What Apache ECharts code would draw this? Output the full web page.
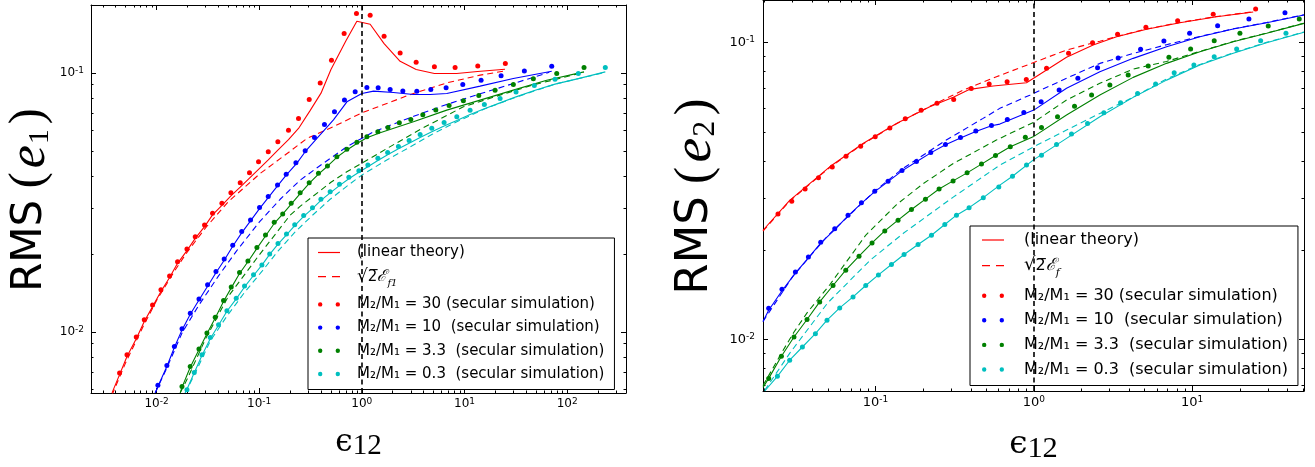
<!DOCTYPE html>
<html><head><meta charset="utf-8">
<script src="https://cdn.jsdelivr.net/npm/echarts@6/dist/echarts.min.js"></script>
<style>html,body{margin:0;padding:0;background:#fff}#c{width:1315px;height:467px}</style>
</head><body><div id="c"></div>
<script>
// ================= LEFT PANEL : RMS(e1) vs eps12 =================
const e1_xRange = [0.002297, 374.6];
const e1_yRange = [0.005802, 0.1829];
const e1_xMajor = [0.01, 0.1, 1, 10, 100];
const e1_xMinor = [0.003,0.004,0.005,0.006,0.007,0.008,0.009,0.02,0.03,0.04,0.05,0.06,0.07,0.08,0.09,0.2,0.3,0.4,0.5,0.6,0.7,0.8,0.9,2,3,4,5,6,7,8,9,20,30,40,50,60,70,80,90,200,300];
const e1_yMajor = [0.01, 0.1];
const e1_yMinor = [0.006,0.007,0.008,0.009,0.02,0.03,0.04,0.05,0.06,0.07,0.08,0.09];
const e1_refX = 1;

// M2/M1 = 30 (red)
const e1_sim30 = [[0.00436,0.00693],[0.00515,0.00815],[0.00634,0.00954],[0.00759,0.01113],[0.00914,0.0127],[0.01103,0.01452],[0.01339,0.01644],[0.01601,0.01866],[0.01977,0.0209],[0.02381,0.0233],[0.02934,0.02586],[0.0351,0.0287],[0.0433,0.03134],[0.053,0.03445],[0.0653,0.03765],[0.0804,0.0411],[0.0985,0.0454],[0.1225,0.0496],[0.152,0.0542],[0.1929,0.0601],[0.2415,0.0667],[0.307,0.0789],[0.393,0.0915],[0.506,0.1119],[0.672,0.1419],[0.886,0.1694],[1.205,0.1669],[1.647,0.1384],[2.36,0.1194],[3.38,0.1100],[5.09,0.1055],[8.1,0.1049],[13.47,0.1064],[25.0,0.1087]];
const e1_lin30 = [[0.00368,0.00581],[0.00436,0.00683],[0.00515,0.00803],[0.00634,0.0094],[0.00759,0.01096],[0.00914,0.01251],[0.01103,0.0143],[0.01339,0.0162],[0.01601,0.01838],[0.01977,0.02059],[0.02381,0.02295],[0.02934,0.02547],[0.0351,0.0283],[0.0433,0.0308],[0.053,0.0335],[0.0653,0.0362],[0.0804,0.0392],[0.0985,0.0424],[0.1225,0.0461],[0.152,0.0503],[0.1929,0.0552],[0.2415,0.061],[0.313,0.0715],[0.40,0.0835],[0.50,0.103],[0.70,0.133],[0.894,0.1582],[1.205,0.1541],[1.647,0.1297],[2.36,0.1109],[3.38,0.103],[5.09,0.0994],[8.4,0.0995],[13.4,0.1012],[24.8,0.1033]];
const e1_sq30 = [[0.00368,0.0057],[0.005,0.0076],[0.0075,0.0106],[0.01,0.0132],[0.015,0.0172],[0.02,0.0204],[0.03,0.0252],[0.05,0.0318],[0.1023,0.0409],[0.2,0.0498],[0.291,0.0558],[0.529,0.062],[1.0,0.0701],[1.75,0.0762],[3.18,0.0833],[6.72,0.0915],[14.2,0.098],[24.8,0.1018]];
// M2/M1 = 10 (blue)
const e1_sim10 = [[0.0103,0.00621],[0.0126,0.00741],[0.0149,0.00878],[0.0177,0.01027],[0.0213,0.0118],[0.0259,0.0134],[0.0314,0.0152],[0.0379,0.0171],[0.0456,0.0191],[0.0552,0.0216],[0.0675,0.0244],[0.0823,0.027],[0.1007,0.0302],[0.1224,0.0333],[0.1508,0.0369],[0.1832,0.0406],[0.2277,0.045],[0.2805,0.05],[0.3455,0.0563],[0.4323,0.0632],[0.5411,0.0707],[0.677,0.0785],[0.861,0.0845],[1.119,0.0878],[1.441,0.0876],[1.886,0.0863],[2.507,0.0852],[3.432,0.085],[4.697,0.0863],[6.62,0.0876],[9.625,0.0902],[14.51,0.0937],[22.72,0.0974],[38.3,0.1018],[70.8,0.1061]];
const e1_lin10 = [[0.0097,0.00581],[0.0103,0.00615],[0.0126,0.00734],[0.0149,0.0087],[0.0177,0.01017],[0.0213,0.01168],[0.0259,0.01327],[0.0314,0.015],[0.0379,0.0169],[0.0456,0.0189],[0.0552,0.0214],[0.0675,0.0241],[0.0823,0.0268],[0.1007,0.0299],[0.1224,0.033],[0.1508,0.0366],[0.1832,0.0403],[0.233,0.0448],[0.2805,0.0496],[0.365,0.0558],[0.529,0.0658],[0.715,0.0773],[1.0,0.0833],[1.3,0.085],[2.03,0.084],[3.18,0.0825],[4.62,0.0825],[6.72,0.0833],[14.2,0.0889],[29.9,0.0951],[70.8,0.1015]];
const e1_sq10 = [[0.0097,0.00581],[0.0126,0.00725],[0.0177,0.0099],[0.0259,0.0127],[0.04,0.0164],[0.06,0.0205],[0.1,0.0265],[0.16,0.0325],[0.25,0.0385],[0.378,0.0434],[0.715,0.0519],[1.3,0.0592],[1.75,0.062],[3.2,0.068],[6.7,0.0755],[14.2,0.083],[30,0.091],[67,0.1005]];
// M2/M1 = 3.3 (green)
const e1_sim3 = [[0.01768,0.00615],[0.02128,0.00735],[0.02587,0.00858],[0.03095,0.00989],[0.03729,0.01139],[0.04491,0.0132],[0.05339,0.01488],[0.06429,0.01693],[0.07762,0.01878],[0.09497,0.02118],[0.1151,0.02366],[0.14,0.02649],[0.1694,0.02851],[0.2049,0.03135],[0.2506,0.03445],[0.3068,0.03765],[0.3779,0.04093],[0.4624,0.04367],[0.5708,0.04744],[0.7146,0.05066],[0.894,0.05391],[1.119,0.05665],[1.432,0.05922],[1.795,0.06157],[2.318,0.06415],[3.0,0.06612],[3.926,0.06887],[5.254,0.07182],[7.079,0.07487],[9.757,0.07798],[13.78,0.0818],[19.86,0.08576],[29.93,0.09022],[46.88,0.09482],[79.19,0.09947],[146.1,0.1049]];
const e1_lin3 = [[0.017,0.00581],[0.01768,0.0061],[0.02128,0.0073],[0.02587,0.00852],[0.03095,0.00982],[0.03729,0.0113],[0.04491,0.0131],[0.05339,0.01478],[0.06429,0.0168],[0.07762,0.01865],[0.09497,0.021],[0.1151,0.02345],[0.14,0.0262],[0.1694,0.0285],[0.2049,0.0311],[0.2506,0.0342],[0.3068,0.0374],[0.3779,0.04065],[0.4624,0.0436],[0.5708,0.0472],[0.7146,0.0504],[0.894,0.0534],[1.119,0.0562],[1.507,0.0587],[3.18,0.0647],[6.72,0.0718],[14.2,0.0785],[29.9,0.0858],[63.3,0.0937],[146,0.1009]];
const e1_sq3 = [[0.017,0.00581],[0.02,0.0066],[0.03,0.0094],[0.05,0.0137],[0.1,0.0198],[0.2,0.0282],[0.25,0.0305],[0.5,0.0378],[0.7146,0.0415],[1.0,0.0448],[1.75,0.051],[3.7,0.0605],[9.76,0.074],[20,0.081],[45,0.0895],[146,0.1005]];
// M2/M1 = 0.3 (cyan)
const e1_sim03 = [[0.01977,0.00597],[0.02329,0.00697],[0.02767,0.00815],[0.03333,0.00951],[0.04015,0.01064],[0.04846,0.01205],[0.05971,0.01349],[0.07192,0.01504],[0.08801,0.01659],[0.1062,0.01813],[0.1265,0.01999],[0.1524,0.02194],[0.1844,0.02387],[0.2217,0.02591],[0.2712,0.02811],[0.3304,0.03016],[0.399,0.03249],[0.4912,0.03476],[0.6051,0.03712],[0.747,0.0395],[0.935,0.04188],[1.144,0.04406],[1.432,0.04677],[1.783,0.04923],[2.272,0.05201],[2.888,0.05477],[3.695,0.05778],[4.803,0.06105],[6.33,0.06437],[8.414,0.06765],[11.34,0.0718],[15.62,0.07552],[22.22,0.07966],[31.79,0.08428],[47.94,0.08942],[76.22,0.09456],[128.6,0.09947],[235.5,0.1049]];
const e1_lin03 = [[0.019,0.00581],[0.01977,0.006],[0.02329,0.00695],[0.02767,0.0081],[0.03333,0.0094],[0.04015,0.0106],[0.04846,0.012],[0.05971,0.0134],[0.07192,0.0149],[0.08801,0.0165],[0.1062,0.0181],[0.1265,0.0199],[0.1524,0.0218],[0.1844,0.0237],[0.2217,0.0257],[0.2712,0.0279],[0.3304,0.0299],[0.399,0.0322],[0.4912,0.0344],[0.6051,0.0367],[0.747,0.039],[0.935,0.0413],[1.144,0.0434],[1.432,0.0459],[1.783,0.0483],[2.272,0.0509],[2.888,0.0535],[3.695,0.0563],[4.803,0.0593],[6.33,0.0624],[8.414,0.0655],[11.34,0.0691],[15.62,0.0727],[22.22,0.0766],[31.79,0.0808],[47.94,0.0855],[76.22,0.0905],[128.6,0.095],[235.5,0.1009]];
const e1_sq03 = [[0.019,0.00581],[0.0233,0.0068],[0.0333,0.0092],[0.0485,0.0115],[0.072,0.0142],[0.1062,0.0171],[0.1524,0.0205],[0.2217,0.0242],[0.3304,0.0282],[0.4912,0.0325],[0.747,0.037],[1.0,0.0403],[1.75,0.0461],[2.888,0.0515],[4.803,0.0578],[8.414,0.0648],[15.62,0.0725],[31.79,0.0806],[76.22,0.0905],[235.5,0.1005]];

// ================= RIGHT PANEL : RMS(e2) vs eps12 =================
const e2_xRange = [0.0195, 50.8];
const e2_yRange = [0.00671, 0.1393];
const e2_xMajor = [0.1, 1, 10];
const e2_xMinor = [0.02,0.03,0.04,0.05,0.06,0.07,0.08,0.09,0.2,0.3,0.4,0.5,0.6,0.7,0.8,0.9,2,3,4,5,6,7,8,9,20,30,40,50];
const e2_yMajor = [0.01, 0.1];
const e2_yMinor = [0.007,0.008,0.009,0.02,0.03,0.04,0.05,0.06,0.07,0.08,0.09];
const e2_refX = 1;

const e2_sim30 = [[0.02425,0.02648],[0.02962,0.02922],[0.03597,0.03216],[0.04368,0.03512],[0.05337,0.03816],[0.0652,0.04145],[0.08064,0.0448],[0.0997,0.04818],[0.1233,0.05164],[0.1543,0.0554],[0.1943,0.05926],[0.2447,0.06256],[0.3119,0.06437],[0.4024,0.07015],[0.5224,0.07254],[0.6781,0.07386],[0.8965,0.07521],[1.203,0.082],[1.657,0.0921],[2.349,0.1],[3.379,0.1067],[5.10,0.1127],[8.09,0.1186],[13.57,0.1247],[25.15,0.1299]];
const e2_lin30 = [[0.0195,0.02335],[0.02875,0.02943],[0.05143,0.03819],[0.08348,0.04578],[0.1357,0.05348],[0.2203,0.06084],[0.31,0.0655],[0.3941,0.06966],[0.5533,0.0715],[0.899,0.0733],[1.203,0.0809],[1.609,0.0893],[2.369,0.0982],[3.331,0.1047],[5.151,0.111],[8.361,0.1168],[14.26,0.1224],[24.28,0.1269]];
const e2_sq30 = [[0.0195,0.0232],[0.02875,0.0293],[0.05143,0.038],[0.08348,0.0456],[0.1357,0.0533],[0.2203,0.061],[0.281,0.065],[0.358,0.0692],[0.581,0.0768],[1.0,0.0858],[1.609,0.0945],[2.61,0.1012],[3.33,0.105],[5.15,0.1112],[8.36,0.117],[14.26,0.1226],[24.3,0.1271]];
const e2_sim10 = [[0.02118,0.01275],[0.0257,0.01477],[0.03123,0.0169],[0.03773,0.01899],[0.04511,0.02128],[0.05534,0.0236],[0.06712,0.02625],[0.08155,0.02888],[0.09899,0.03162],[0.1201,0.03417],[0.1472,0.03714],[0.1815,0.03982],[0.2235,0.04271],[0.2768,0.04545],[0.3443,0.04797],[0.4301,0.05039],[0.5403,0.05266],[0.6803,0.05516],[0.8646,0.05824],[1.112,0.06324],[1.445,0.06927],[1.897,0.07586],[2.526,0.08234],[3.409,0.08878],[4.721,0.095],[6.625,0.1013],[9.629,0.1076],[14.47,0.1141],[22.81,0.1202],[38.51,0.1262]];
const e2_lin10 = [[0.0195,0.0115],[0.02118,0.01255],[0.0257,0.0146],[0.03123,0.01675],[0.03773,0.01885],[0.04511,0.02112],[0.05534,0.02345],[0.06712,0.0261],[0.08155,0.02875],[0.09899,0.0315],[0.1201,0.03405],[0.1472,0.037],[0.1815,0.0397],[0.2235,0.04255],[0.2768,0.0453],[0.3443,0.0478],[0.4301,0.0502],[0.5403,0.0525],[0.61,0.05319],[1.0,0.0593],[1.609,0.07022],[2.612,0.07983],[4.24,0.08858],[6.89,0.09694],[11.18,0.1047],[18.16,0.1112],[29.51,0.1168],[50.8,0.124]];
const e2_sq10 = [[0.0195,0.0115],[0.03,0.0163],[0.05,0.0224],[0.1,0.0318],[0.15,0.0378],[0.28,0.047],[0.478,0.0556],[0.61,0.0601],[0.9435,0.0666],[1.609,0.0759],[2.612,0.0852],[4.24,0.092],[6.89,0.0985],[11.18,0.105],[18.16,0.1114],[29.5,0.117],[50.8,0.1242]];
const e2_sim3 = [[0.02118,0.0074],[0.02548,0.00879],[0.0306,0.0102],[0.03698,0.01168],[0.04446,0.01339],[0.05397,0.01521],[0.06494,0.01713],[0.07875,0.01909],[0.09517,0.02117],[0.1145,0.02323],[0.1389,0.02525],[0.1688,0.02743],[0.2069,0.02972],[0.2522,0.03217],[0.3091,0.03424],[0.3791,0.03644],[0.4673,0.039],[0.5729,0.04171],[0.7104,0.0446],[0.8837,0.04801],[1.118,0.05185],[1.411,0.0563],[1.807,0.06115],[2.316,0.06664],[3.02,0.072],[3.942,0.07781],[5.274,0.08343],[7.126,0.08929],[9.77,0.09523],[13.77,0.1016],[20.01,0.1076],[30.2,0.1138],[47.42,0.1202]];
const e2_lin3 = [[0.0195,0.0069],[0.02118,0.0074],[0.02548,0.00879],[0.0306,0.0102],[0.03698,0.01168],[0.04446,0.01339],[0.05397,0.01521],[0.06494,0.01713],[0.07875,0.01909],[0.09517,0.02117],[0.1145,0.02323],[0.1389,0.02525],[0.1688,0.02743],[0.2069,0.02972],[0.2522,0.03217],[0.3091,0.03424],[0.3791,0.03644],[0.4673,0.039],[0.5729,0.04171],[0.7104,0.0446],[0.99,0.04818],[1.609,0.05705],[2.612,0.06664],[4.24,0.07643],[6.89,0.08521],[11.18,0.09325],[18.16,0.1008],[29.51,0.1076],[50.8,0.1162]];
const e2_sq3 = [[0.0195,0.007],[0.0255,0.009],[0.0306,0.0106],[0.037,0.0123],[0.0515,0.0153],[0.087,0.0225],[0.136,0.0285],[0.2,0.0335],[0.31,0.0392],[0.58,0.047],[1.0,0.054],[1.609,0.0641],[2.612,0.073],[4.24,0.0815],[6.89,0.0865],[11.18,0.0935],[18.16,0.101],[29.51,0.1078],[50.8,0.1164]];
const e2_sim03 = [[0.02404,0.00752],[0.02874,0.00852],[0.03457,0.00944],[0.04178,0.01047],[0.04945,0.01162],[0.05948,0.01278],[0.07219,0.01392],[0.08685,0.01521],[0.1044,0.01651],[0.1262,0.0179],[0.1516,0.01935],[0.1858,0.02091],[0.2258,0.02246],[0.2741,0.02441],[0.3248,0.02625],[0.3902,0.02782],[0.4797,0.03006],[0.601,0.03268],[0.7334,0.03552],[0.8993,0.0387],[1.118,0.04181],[1.391,0.04545],[1.73,0.04923],[2.184,0.05348],[2.768,0.05808],[3.529,0.06276],[4.519,0.0675],[5.872,0.07256],[7.695,0.07924],[10.25,0.08413],[13.77,0.0897],[19.08,0.09523],[27.05,0.1016],[39.08,0.1076]];
const e2_lin03 = [[0.02,0.00671],[0.02404,0.00752],[0.02874,0.00852],[0.03457,0.00944],[0.04178,0.01047],[0.04945,0.01162],[0.05948,0.01278],[0.07219,0.01392],[0.08685,0.01521],[0.1044,0.01651],[0.1262,0.0179],[0.1516,0.01935],[0.1858,0.02091],[0.2258,0.02246],[0.2741,0.02441],[0.3248,0.02625],[0.3902,0.02782],[0.4797,0.03006],[0.61,0.03313],[0.7334,0.0355],[0.99,0.04022],[1.609,0.04761],[2.612,0.0563],[4.24,0.06546],[6.89,0.07482],[11.18,0.08413],[18.16,0.09211],[29.51,0.1],[50.8,0.1084]];
const e2_sq03 = [[0.02,0.00675],[0.0288,0.009],[0.05,0.0133],[0.0925,0.0185],[0.15,0.0228],[0.31,0.0302],[0.61,0.0387],[0.99,0.0445],[1.609,0.0508],[2.612,0.0578],[4.24,0.0655],[6.89,0.0755],[11.18,0.0845],[18.16,0.0925],[29.5,0.1003],[50.8,0.1087]];

// ================= styling =================
const COL = {r:'#ff0000', b:'#0000ff', g:'#008000', c:'#00bfbf'};
const FONT = 'DejaVu Sans';

function fmtPow(v){ const e = Math.round(Math.log10(v)); return '10{sup|' + e + '}'; }

function mkAxes(gi, rng, major, minor, pos, cfg){
  const opp = {bottom:'top', top:'bottom', left:'right', right:'left'}[pos];
  const base = {type:'log', gridIndex:gi, min:rng[0], max:rng[1], splitLine:{show:false}, splitArea:{show:false}};
  const line = {show:true, lineStyle:{color:'#000', width:1}};
  const tick = (vals, len) => ({show:true, inside:true, length:len, customValues:vals, lineStyle:{color:'#000', width:1}});
  const main = Object.assign({}, base, {
    position:pos, axisLine:line, axisTick:tick(major,5),
    axisLabel:{show:true, customValues:major, formatter:fmtPow, margin:cfg.margin, color:'#000',
      fontFamily:FONT, fontSize:cfg.fs, lineHeight:cfg.fs+2,
      rich:{sup:{fontFamily:FONT, fontSize:Math.round(cfg.fs*0.72), lineHeight:5, verticalAlign:'top', color:'#000'}}},
    name:cfg.name, nameLocation:'middle', nameGap:cfg.gap, nameTextStyle:cfg.nameStyle
  });
  if (cfg.rot !== undefined) main.nameRotate = cfg.rot;
  return [
    main,
    Object.assign({}, base, {position:pos, axisLine:{show:false}, axisTick:tick(minor,2.5), axisLabel:{show:false}}),
    Object.assign({}, base, {position:opp, axisLine:line, axisTick:tick(major,5), axisLabel:{show:false}}),
    Object.assign({}, base, {position:opp, axisLine:{show:false}, axisTick:tick(minor,2.5), axisLabel:{show:false}})
  ];
}

function xNameStyle(s){
  return {rich:{
    eps:{fontFamily:'DejaVu Serif', fontSize:31*s, lineHeight:36*s, color:'#000'},
    sub:{fontFamily:'Liberation Serif', fontSize:29*s, lineHeight:26*s, verticalAlign:'bottom', color:'#000'}
  }};
}
function yNameStyle(s){
  return {fontSize:16, rich:{
    rms:{fontFamily:FONT, fontSize:42*s, lineHeight:50*s, color:'#000'},
    sp:{fontFamily:FONT, fontSize:30*s, lineHeight:50*s, color:'#000'},
    p:{fontFamily:'Liberation Serif', fontSize:48*s, lineHeight:50*s, padding:[0,2*s,0,2*s], color:'#000'},
    e:{fontFamily:'Liberation Serif', fontStyle:'italic', fontSize:52*s, lineHeight:50*s, padding:[0,1*s,0,2*s], color:'#000'},
    s:{fontFamily:'Liberation Serif', fontSize:30*s, lineHeight:16*s, verticalAlign:'bottom', padding:[0,3*s,0,0], color:'#000'}
  }};
}

function ln(name, data, color, dashed, ai, extra){
  return Object.assign({type:'line', name, data, xAxisIndex:ai, yAxisIndex:ai, symbol:'none', showSymbol:false,
    silent:true, z:2, lineStyle:{color, width:1.1, type: dashed ? [6,4] : 'solid'}, itemStyle:{color}}, extra||{});
}
function sc(name, data, color, ai, size){
  return {type:'scatter', name, data, xAxisIndex:ai, yAxisIndex:ai, symbol:'circle', symbolSize:size,
    silent:true, z:3, itemStyle:{color, opacity:1}};
}
function vline(x){
  return {markLine:{silent:true, symbol:['none','none'], animation:false, label:{show:false},
    lineStyle:{color:'#000', type:[5,3.5], width:1.6}, data:[{xAxis:x}]}};
}

const twoDots = 'path://M0,2.2a2.2,2.2 0 1,0 4.4,0a2.2,2.2 0 1,0 -4.4,0zM17.6,2.2a2.2,2.2 0 1,0 4.4,0a2.2,2.2 0 1,0 -4.4,0z';
const solidIcon = 'path://M0,0H22V1.2H0Z';
const dashIcon = 'path://M0,0H8V1.2H0ZM14,0H22V1.2H14Z';
const LBL = {
  L_lin:'{sp| }{t|(linear theory)}',
  L_sq:'{sp| }{rt|√}{ov|2\u0305}{E|ℰ}{fs|f1}',
  L_30:'{sp| }{t|M₂/M₁ = 30 (secular simulation)}',
  L_10:'{sp| }{t|M₂/M₁ = 10  (secular simulation)}',
  L_3:'{sp| }{t|M₂/M₁ = 3.3  (secular simulation)}',
  L_03:'{sp| }{t|M₂/M₁ = 0.3  (secular simulation)}',
  R_lin:'{sp| }{t|(linear theory)}',
  R_sq:'{sp| }{rt|√}{ov|2\u0305}{E|ℰ}{fs|f}',
  R_30:'{sp| }{t|M₂/M₁ = 30 (secular simulation)}',
  R_10:'{sp| }{t|M₂/M₁ = 10  (secular simulation)}',
  R_3:'{sp| }{t|M₂/M₁ = 3.3  (secular simulation)}',
  R_03:'{sp| }{t|M₂/M₁ = 0.3  (secular simulation)}'
};
function legendRich(fs, sp, lh, mh){
  return {
    sp:{fontFamily:FONT, fontSize:fs, width:sp, lineHeight:lh, color:'#000'},
    t:{fontFamily:FONT, fontSize:fs, lineHeight:lh, color:'#000'},
    rt:{fontFamily:FONT, fontSize:fs+2, lineHeight:mh, color:'#000'},
    ov:{fontFamily:FONT, fontSize:fs, lineHeight:mh, color:'#000'},
    E:{fontFamily:'DejaVu Serif', fontStyle:'italic', fontSize:fs+1, lineHeight:mh, color:'#000'},
    fs:{fontFamily:'DejaVu Serif', fontStyle:'italic', fontSize:Math.round(fs*0.66), lineHeight:mh*0.45, verticalAlign:'bottom', color:'#000'}
  };
}
function mkLegend(prefix, left, top, fs, sp, lh, mh, gap, pad){
  return {
    show:true, orient:'vertical', left, top, itemWidth:22, itemHeight:5, itemGap:gap, padding:pad,
    backgroundColor:'#fff', borderColor:'#000', borderWidth:1, borderRadius:0, selectedMode:false,
    data:[{name:prefix+'_lin',icon:solidIcon},{name:prefix+'_sq',icon:dashIcon},{name:prefix+'_30',icon:twoDots},{name:prefix+'_10',icon:twoDots},{name:prefix+'_3',icon:twoDots},{name:prefix+'_03',icon:twoDots}],
    formatter:(n)=>LBL[n],
    textStyle:{fontFamily:FONT, fontSize:fs, color:'#000', rich:legendRich(fs, sp, lh, mh)}
  };
}

const xAxes = [].concat(
  mkAxes(0, e1_xRange, e1_xMajor, e1_xMinor, 'bottom', {fs:12, margin:4, gap:32, name:'{eps|ϵ}{sub|12}', nameStyle:xNameStyle(1)}),
  mkAxes(1, e2_xRange, e2_xMajor, e2_xMinor, 'bottom', {fs:13, margin:4, gap:35, name:'{eps|ϵ}{sub|12}', nameStyle:xNameStyle(1.05)})
);
const yAxes = [].concat(
  mkAxes(0, e1_yRange, e1_yMajor, e1_yMinor, 'left', {fs:12, margin:7, gap:35, rot:90, name:'{rms|RMS}{sp| }{p|(}{e|e}{s|1}{p|)}', nameStyle:yNameStyle(1)}),
  mkAxes(1, e2_yRange, e2_yMajor, e2_yMinor, 'left', {fs:13, margin:8, gap:41, rot:90, name:'{rms|RMS}{sp| }{p|(}{e|e}{s|2}{p|)}', nameStyle:yNameStyle(1.07)})
);

const series = [
  ln('L_lin', e1_lin30, COL.r, false, 0, vline(e1_refX)),
  ln('L_sq', e1_sq30, COL.r, true, 0),
  ln('L_lin10', e1_lin10, COL.b, false, 0), ln('L_sq10', e1_sq10, COL.b, true, 0),
  ln('L_lin3', e1_lin3, COL.g, false, 0), ln('L_sq3', e1_sq3, COL.g, true, 0),
  ln('L_lin03', e1_lin03, COL.c, false, 0), ln('L_sq03', e1_sq03, COL.c, true, 0),
  sc('L_30', e1_sim30, COL.r, 0, 5), sc('L_10', e1_sim10, COL.b, 0, 5),
  sc('L_3', e1_sim3, COL.g, 0, 5), sc('L_03', e1_sim03, COL.c, 0, 5),

  ln('R_lin', e2_lin30, COL.r, false, 4, vline(e2_refX)),
  ln('R_sq', e2_sq30, COL.r, true, 4),
  ln('R_lin10', e2_lin10, COL.b, false, 4), ln('R_sq10', e2_sq10, COL.b, true, 4),
  ln('R_lin3', e2_lin3, COL.g, false, 4), ln('R_sq3', e2_sq3, COL.g, true, 4),
  ln('R_lin03', e2_lin03, COL.c, false, 4), ln('R_sq03', e2_sq03, COL.c, true, 4),
  sc('R_30', e2_sim30, COL.r, 4, 5), sc('R_10', e2_sim10, COL.b, 4, 5),
  sc('R_3', e2_sim3, COL.g, 4, 5), sc('R_03', e2_sim03, COL.c, 4, 5)
];

const option = {
  animation:false,
  backgroundColor:'#fff',
  textStyle:{fontFamily:FONT, color:'#000'},
  grid:[
    {left:91, right:689, top:5, bottom:74, containLabel:false, outerBoundsMode:'none'},
    {left:763, right:11, top:0, bottom:76, containLabel:false, outerBoundsMode:'none'}
  ],
  xAxis:xAxes,
  yAxis:yAxes,
  legend:[
    mkLegend('L', 308, 238, 15, 12, 16, 24, 8.2, [7,10,8,10]),
    mkLegend('R', 970, 226, 16, 15, 17, 27, 8.6, [6,10,8,12])
  ],
  series
};
const chart = echarts.init(document.getElementById('c'), null, {renderer:'canvas'});
chart.setOption(option);
</script>
</body></html>
